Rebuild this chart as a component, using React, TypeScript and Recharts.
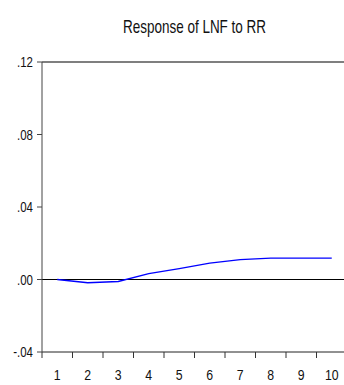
import { CartesianGrid, Line, LineChart, ReferenceLine, XAxis, YAxis } from 'recharts'

const periods = [1, 2, 3, 4, 5, 6, 7, 8, 9, 10]
const response = [0.0, -0.0018, -0.0011, 0.0033, 0.006, 0.009, 0.011, 0.0118, 0.0118, 0.0118]
const yTicks = [-0.04, 0, 0.04, 0.08, 0.12]

const data = periods.map((p, i) => ({ period: p, value: response[i] }))

// no narrow face installed, so squeeze Liberation Sans horizontally
const FONT = '"Liberation Sans", Arial, sans-serif'
const SQUEEZE = 0.82
const BAND = 30.5

const fmt = (v: number) => v.toFixed(2).replace(/^(-?)0\./, '$1.')

function PeriodTick(props: any) {
  const { x, y, payload } = props
  return (
    <g>
      <line x1={x - BAND / 2} y1={y - 8} x2={x - BAND / 2} y2={y - 2} stroke="#333" />
      <text
        transform={`translate(${x},${y + 20}) scale(${SQUEEZE},1)`}
        textAnchor="middle"
        fontSize={15}
        fontFamily={FONT}
        fill="#111"
      >
        {payload.value}
      </text>
    </g>
  )
}

function ValueTick(props: any) {
  const { x, y, payload } = props
  return (
    <text
      transform={`translate(${x - 2},${y + 5}) scale(${SQUEEZE},1)`}
      textAnchor="end"
      fontSize={14}
      fontFamily={FONT}
      fill="#111"
    >
      {fmt(payload.value)}
    </text>
  )
}

export default function App() {
  return (
    <div style={{ position: 'relative', width: 344, height: 385, overflow: 'hidden', background: '#fff' }}>
      <style>{'body{margin:0}'}</style>
      <svg width={344} height={45} style={{ position: 'absolute', top: 0, left: 0 }}>
        <text
          transform={`translate(194.5,33) scale(0.75,1)`}
          textAnchor="middle"
          fontSize={18}
          fontFamily={FONT}
          fill="#111"
        >
          Response of LNF to RR
        </text>
      </svg>
      <LineChart width={352} height={385} data={data} margin={{ top: 62, right: 5, bottom: 0, left: 0 }}>
        <CartesianGrid horizontal={false} vertical={false} />
        <XAxis
          dataKey="period"
          type="number"
          domain={[0.5, 10.5]}
          ticks={periods}
          interval={0}
          tickLine={false}
          axisLine={{ stroke: '#222' }}
          tick={<PeriodTick />}
          height={33}
        />
        <YAxis
          type="number"
          domain={[-0.04, 0.12]}
          ticks={yTicks}
          interval={0}
          width={42}
          tickSize={5}
          axisLine={{ stroke: '#444' }}
          tickLine={{ stroke: '#444' }}
          tick={<ValueTick />}
        />
        <ReferenceLine y={0.12} stroke="#000" strokeWidth={1.2} />
        <ReferenceLine y={0} stroke="#000" strokeWidth={1.2} />
        <Line
          dataKey="value"
          type="linear"
          stroke="#0000ff"
          strokeWidth={1.3}
          dot={false}
          isAnimationActive={false}
        />
      </LineChart>
    </div>
  )
}
